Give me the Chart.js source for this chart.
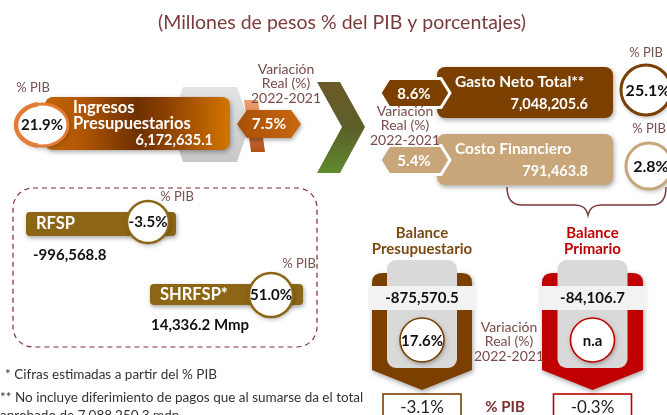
<!DOCTYPE html>
<html>
<head>
<meta charset="utf-8">
<script src="https://cdn.jsdelivr.net/npm/chart.js@4/dist/chart.umd.min.js"></script>
<style>
  html, body { margin: 0; padding: 0; background: #fff; }
  canvas { display: block; }
</style>
</head>
<body>
<canvas id="infographic" width="667" height="415"></canvas>
<script>
const W = 667
const H = 415

// Values (millones de pesos, % del PIB, variación real %)
const flowNames = ['Ingresos Presupuestarios', 'Gasto Neto Total**', 'Costo Financiero']
const flowAmounts = [6172635.1, 7048205.6, 791463.8]
const flowPib = [21.9, 25.1, 2.8]
const flowRealChange = [7.5, 8.6, 5.4]

const rfspNames = ['RFSP', 'SHRFSP*']
const rfspAmounts = [-996568.8, 14336.2]
const rfspUnits = ['', ' Mmp']
const rfspPib = [-3.5, 51.0]

const balanceNames = ['Balance Presupuestario', 'Balance Primario']
const balanceAmounts = [-875570.5, -84106.7]
const balanceRealChange = [17.6, null]
const balancePib = [-3.1, -0.3]

const titleText = '(Millones de pesos % del PIB y porcentajes)'
const pibLabel = '% PIB'
const changeLabel = ['Variación', 'Real (%)', '2022-2021']
const footnotes = [
  '* Cifras estimadas a partir del % PIB',
  '** No incluye diferimiento de pagos que al sumarse da el total',
  'aprobado de 7,088,250.3 mdp'
]

const FONT = 'Lato, "Open Sans", sans-serif'
const fmt = v => v.toLocaleString('en-US', { minimumFractionDigits: 1, maximumFractionDigits: 1 })
const pct = v => v == null ? 'n.a' : v.toFixed(1) + '%'

// small drawing helpers
function text (ctx, s, x, y, size, opt = {}) {
  ctx.font = `${opt.weight || 'normal'} ${size}px ${FONT}`
  ctx.fillStyle = opt.color || '#000'
  ctx.textAlign = opt.align || 'center'
  ctx.textBaseline = 'middle'
  ctx.fillText(s, x, y)
}

function roundRect (ctx, x, y, w, h, r) {
  ctx.beginPath()
  ctx.moveTo(x + r, y)
  ctx.arcTo(x + w, y, x + w, y + h, r)
  ctx.arcTo(x + w, y + h, x, y + h, r)
  ctx.arcTo(x, y + h, x, y, r)
  ctx.arcTo(x, y, x + w, y, r)
  ctx.closePath()
}

function poly (ctx, pts) {
  ctx.beginPath()
  pts.forEach(([x, y], i) => i ? ctx.lineTo(x, y) : ctx.moveTo(x, y))
  ctx.closePath()
}

function shadow (ctx, on, blur = 4) {
  ctx.shadowColor = on ? 'rgba(0,0,0,0.35)' : 'transparent'
  ctx.shadowBlur = on ? blur : 0
  ctx.shadowOffsetX = on ? 1 : 0
  ctx.shadowOffsetY = on ? 2 : 0
}

function badgeCircle (ctx, cx, cy, rx, ry, ring, lw) {
  ctx.save()
  shadow(ctx, true, 5)
  ctx.beginPath()
  ctx.ellipse(cx, cy, rx, ry, 0, 0, Math.PI * 2)
  ctx.fillStyle = '#fff'
  ctx.fill()
  shadow(ctx, false)
  ctx.strokeStyle = ring
  ctx.lineWidth = lw
  ctx.stroke()
  ctx.restore()
}

function hexagon (ctx, x0, x1, yc, h, tip) {
  poly(ctx, [[x0, yc], [x0 + tip, yc - h / 2], [x1 - tip, yc - h / 2], [x1, yc], [x1 - tip, yc + h / 2], [x0 + tip, yc + h / 2]])
}

function changeBlock (ctx, cx, y0) {
  changeLabel.forEach((s, i) => text(ctx, s, cx, y0 + i * 14.5, 14, { color: '#7a4a4a' }))
}

function shield (ctx, x0, x1, color, idx) {
  const cx = (x0 + x1) / 2
  ctx.save()
  shadow(ctx, true, 5)
  ctx.beginPath()
  ctx.moveTo(x0, 283)
  ctx.quadraticCurveTo(x0, 273, x0 + 10, 273)
  ctx.lineTo(x1 - 10, 273)
  ctx.quadraticCurveTo(x1, 273, x1, 283)
  ctx.lineTo(x1, 370)
  ctx.lineTo(cx, 390)
  ctx.lineTo(x0, 370)
  ctx.closePath()
  ctx.fillStyle = color
  ctx.fill()
  ctx.restore()

  ctx.fillStyle = '#d9d9d9'
  roundRect(ctx, cx - 35, 260, 70, 108, 9)
  ctx.fill()
  ctx.fillStyle = '#f2f2f2'
  ctx.fillRect(cx - 54, 286, 108, 24)
  text(ctx, fmt(balanceAmounts[idx]), cx, 298, 15, { weight: 'bold', color: '#111' })

  badgeCircle(ctx, cx, 340, 22, 22, color, 1.6)
  text(ctx, pct(balanceRealChange[idx]), cx, 341, 15, { weight: 'bold', color: '#111' })

  ctx.strokeStyle = color
  ctx.lineWidth = 1.6
  ctx.strokeRect(cx - 39, 394, 78, 30)
  text(ctx, pct(balancePib[idx]), cx, 408, 17, { color: '#222' })

  balanceNames[idx].split(' ').forEach((s, i) =>
    text(ctx, s, cx, 233 + i * 16, 15, { weight: 'bold', color: idx ? '#c00000' : '#7b4a12' }))
}

const infographic = {
  id: 'infographic',
  afterDraw (chart) {
    const ctx = chart.ctx
    const xs = chart.scales.x
    const ys = chart.scales.y
    ctx.save()
    ctx.translate(xs.getPixelForValue(0), ys.getPixelForValue(0))
    ctx.scale((xs.getPixelForValue(W) - xs.getPixelForValue(0)) / W,
      (ys.getPixelForValue(H) - ys.getPixelForValue(0)) / H)

    text(ctx, titleText, 342, 23, 19.5, { color: '#7b3b3b' })

    // --- Ingresos presupuestarios
    let g = ctx.createLinearGradient(0, 87, 0, 162)
    g.addColorStop(0, '#e4e4e4')
    g.addColorStop(1, '#c8c8c8')
    ctx.fillStyle = g
    hexagon(ctx, 170, 250, 124.5, 75, 13)
    ctx.fill()

    ctx.save()
    shadow(ctx, true, 5)
    g = ctx.createLinearGradient(45, 0, 230, 0)
    g.addColorStop(0, '#c46608')
    g.addColorStop(0.2, '#b05604')
    g.addColorStop(0.5, '#6e3000')
    g.addColorStop(0.65, '#8a4000')
    g.addColorStop(1, '#d47400')
    ctx.fillStyle = g
    roundRect(ctx, 45, 97, 185, 53, 8)
    ctx.fill()
    ctx.restore()

    g = ctx.createLinearGradient(0, 100, 0, 152)
    g.addColorStop(0, '#f0a070')
    g.addColorStop(1, '#b05018')
    ctx.fillStyle = g
    poly(ctx, [[244, 100], [258, 100], [265, 152], [251, 152]])
    ctx.fill()

    ctx.save()
    shadow(ctx, true, 4)
    g = ctx.createLinearGradient(237, 0, 301, 0)
    g.addColorStop(0, '#a85008')
    g.addColorStop(1, '#c86810')
    ctx.fillStyle = g
    hexagon(ctx, 237, 301, 124, 28, 10)
    ctx.fill()
    ctx.restore()
    text(ctx, pct(flowRealChange[0]), 269, 124, 15.5, { weight: 'bold', color: '#fff' })
    changeBlock(ctx, 286, 69)

    const ingLines = flowNames[0].split(' ')
    text(ctx, ingLines[0], 73, 108, 16.5, { weight: 'bold', color: '#fff', align: 'left' })
    text(ctx, ingLines[1], 73, 124, 16.5, { weight: 'bold', color: '#fff', align: 'left' })
    text(ctx, fmt(flowAmounts[0]), 213, 140, 14.5, { weight: 'bold', color: '#fff', align: 'right' })

    text(ctx, pibLabel, 33, 88, 13, { color: '#7a4f4f' })
    badgeCircle(ctx, 42, 125, 26, 21, '#e27c38', 3)
    ctx.beginPath()
    ctx.ellipse(42, 125, 26, 21, 0, Math.PI * 0.55, Math.PI * 1.45)
    ctx.strokeStyle = '#e27c38'
    ctx.lineWidth = 4.5
    ctx.stroke()
    text(ctx, pct(flowPib[0]), 42, 125, 15, { weight: 'bold', color: '#111' })

    // --- chevron
    g = ctx.createLinearGradient(0, 82, 0, 173)
    g.addColorStop(0, '#6b5a2a')
    g.addColorStop(0.5, '#5c5f28')
    g.addColorStop(1, '#5e8a2e')
    ctx.fillStyle = g
    poly(ctx, [[317, 82], [340, 82], [365, 127], [340, 173], [317, 173], [342, 127]])
    ctx.fill()

    // --- Gasto neto / costo financiero
    const rows = [
      { idx: 1, y0: 67, color: '#7b4000', hexY: 93, circ: [646, 90, 25] },
      { idx: 2, y0: 134, color: '#c9a679', hexY: 160, circ: [649, 166, 23] }
    ]
    rows.forEach(r => {
      ctx.save()
      shadow(ctx, true, 5)
      ctx.fillStyle = r.color
      roundRect(ctx, 437, r.y0, 176, 51, 8)
      ctx.fill()
      ctx.restore()
      text(ctx, flowNames[r.idx], 455, r.y0 + 15, 15.5, { weight: 'bold', color: '#fff', align: 'left' })
      text(ctx, fmt(flowAmounts[r.idx]), 588, r.y0 + 37, 14.5, { weight: 'bold', color: '#fff', align: 'right' })

      ctx.fillStyle = r.color
      ctx.strokeStyle = '#fff'
      ctx.lineWidth = 3
      hexagon(ctx, 380, 450, r.hexY, 29, 9)
      ctx.fill()
      ctx.stroke()
      text(ctx, pct(flowRealChange[r.idx]), 414, r.hexY + 1, 15, { weight: 'bold', color: '#fff' })

      const [cx, cy, rad] = r.circ
      text(ctx, pibLabel, cx, cy - 37, 13, { color: '#7a4f4f' })
      badgeCircle(ctx, cx, cy, rad, rad, r.color, 3)
      text(ctx, pct(flowPib[r.idx]), cx + 2, cy + 1, 16, { weight: 'bold', color: '#111' })
    })
    changeBlock(ctx, 405, 111)

    // brace
    ctx.beginPath()
    ctx.moveTo(507, 187)
    ctx.quadraticCurveTo(507, 205, 522, 205)
    ctx.lineTo(575, 205)
    ctx.quadraticCurveTo(586, 205, 588, 215)
    ctx.quadraticCurveTo(590, 205, 601, 205)
    ctx.lineTo(652, 205)
    ctx.quadraticCurveTo(666, 205, 666, 187)
    ctx.strokeStyle = '#7a3a3a'
    ctx.lineWidth = 1.5
    ctx.stroke()

    // --- RFSP / SHRFSP
    ctx.save()
    ctx.setLineDash([5, 4])
    ctx.strokeStyle = '#7a3030'
    ctx.lineWidth = 1.2
    roundRect(ctx, 13, 188, 304, 159, 20)
    ctx.stroke()
    ctx.restore()

    const bars = [
      { x0: 26, x1: 176, y0: 212, h: 24, circ: [148, 222, 21], amtX: 33, amtY: 255 },
      { x0: 150, x1: 303, y0: 284, h: 21, circ: [271, 295, 22], amtX: 151, amtY: 325 }
    ]
    bars.forEach((b, i) => {
      ctx.save()
      shadow(ctx, true, 4)
      ctx.fillStyle = '#8c6614'
      roundRect(ctx, b.x0, b.y0, b.x1 - b.x0, b.h, 4)
      ctx.fill()
      ctx.restore()
      text(ctx, rfspNames[i], b.x0 + 10, b.y0 + b.h / 2, 16.5, { weight: 'bold', color: '#fff', align: 'left' })
      const [cx, cy, rad] = b.circ
      text(ctx, pibLabel, cx + 29 - i * 1, cy - 25 - i * 6, 13, { color: '#7a4f4f' })
      badgeCircle(ctx, cx, cy, rad, rad, '#8c6614', 2.5)
      text(ctx, pct(rfspPib[i]), cx, cy, 15, { weight: 'bold', color: '#111' })
      text(ctx, fmt(rfspAmounts[i]) + rfspUnits[i], b.amtX, b.amtY, 15, { weight: 'bold', color: '#111', align: 'left' })
    })

    // --- balances
    shield(ctx, 372, 472, '#7b4000', 0)
    shield(ctx, 542, 643, '#c00000', 1)
    changeBlock(ctx, 509, 327)
    text(ctx, pibLabel, 505, 407, 15, { weight: 'bold', color: '#7a2e2e' })

    // --- footnotes
    text(ctx, footnotes[0], 5, 375, 13.5, { color: '#333', align: 'left' })
    text(ctx, footnotes[1], 0, 398, 13.5, { color: '#333', align: 'left' })
    text(ctx, footnotes[2], 0, 416, 13.5, { color: '#333', align: 'left' })

    ctx.restore()
  }
}

new Chart(document.getElementById('infographic'), {
  type: 'scatter',
  data: { datasets: [] },
  options: {
    responsive: false,
    animation: false,
    events: [],
    layout: { padding: 0 },
    plugins: { legend: { display: false }, tooltip: { enabled: false } },
    scales: {
      x: { type: 'linear', min: 0, max: W, display: false },
      y: { type: 'linear', min: 0, max: H, reverse: true, display: false }
    }
  },
  plugins: [infographic]
})
</script>
</body>
</html>
